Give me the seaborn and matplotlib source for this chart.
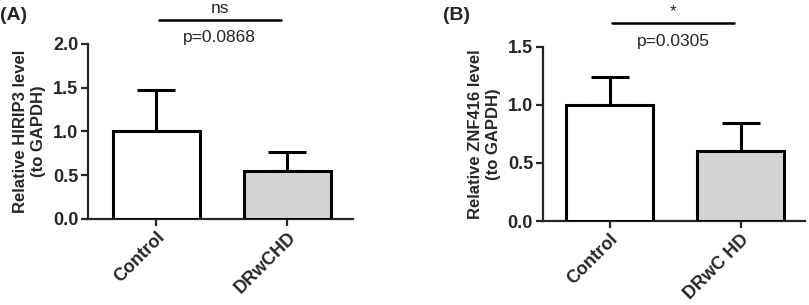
import matplotlib
matplotlib.use("Agg")
import matplotlib.pyplot as plt
import seaborn as sns
import pandas as pd

categories = ["Control", "DRwCHD"]
tick_labels_a = ["Control", "DRwCHD"]
tick_labels_b = ["Control", "DRwC HD"]
means_a = [1.0, 0.55]
errs_a = [0.47, 0.21]
means_b = [1.0, 0.60]
errs_b = [0.24, 0.245]
ylabel_a = "Relative HIRIP3 level\n(to GAPDH)"
ylabel_b = "Relative ZNF416 level\n(to GAPDH)"
sig_a = ("ns", "p=0.0868")
sig_b = ("*", "p=0.0305")
yticks_a = [0.0, 0.5, 1.0, 1.5, 2.0]
yticks_b = [0.0, 0.5, 1.0, 1.5]

sns.set_theme(style="ticks")
plt.rcParams["font.family"] = ["Liberation Sans", "DejaVu Sans"]

fig = plt.figure(figsize=(8.09, 3.05), dpi=100)
ax_a = fig.add_axes([0.1088, 0.282, 0.3275, 0.574])
ax_b = fig.add_axes([0.671, 0.275, 0.324, 0.572])

colors = ["white", "#d4d4d4"]

def draw(ax, means, errs, ylabel, sig, yticks, ymax, labels, letter, letter_x, xl, liney):
    df = pd.DataFrame({"group": categories, "value": means})
    sns.barplot(data=df, x="group", y="value", hue="group", palette=colors,
                edgecolor="black", linewidth=2.2, width=0.66, legend=False, ax=ax, zorder=3)
    ax.errorbar(range(len(means)), means, yerr=[[0] * len(errs), errs], fmt="none",
                ecolor="black", elinewidth=2.2, capsize=13.5, capthick=2.2, zorder=2)
    ax.set_ylim(0, ymax)
    ax.set_xlim(*xl)
    ax.set_yticks(yticks)
    ax.set_yticklabels([f"{t:.1f}" for t in yticks], fontsize=13, fontweight="bold")
    ax.set_xticks(range(len(labels)))
    ax.set_xticklabels(labels, rotation=45, ha="right", rotation_mode="anchor",
                       fontsize=13, fontweight="bold")
    ax.set_xlabel("")
    ax.set_ylabel(ylabel, fontsize=12, fontweight="bold", linespacing=1.25, labelpad=5)
    sns.despine(ax=ax)
    for s in ["left", "bottom"]:
        ax.spines[s].set_linewidth(1.6)
    ax.tick_params(axis="both", width=1.6, length=5, direction="out", pad=2)
    tr = ax.get_xaxis_transform()
    ax.plot([0.02, 0.95], [liney, liney], color="black", lw=1.8, clip_on=False, transform=tr)
    ax.text(0.485, liney + 0.02, sig[0], ha="center", va="bottom", fontsize=12.5, transform=tr)
    ax.text(0.485, liney - 0.06, sig[1], ha="center", va="top", fontsize=12.5, transform=tr)
    fig.text(letter_x, 0.95, letter, ha="left", va="center", fontsize=14, fontweight="bold")

draw(ax_a, means_a, errs_a, ylabel_a, sig_a, yticks_a, 2.0, tick_labels_a, "(A)", 0.0,
     (-0.52, 1.50), 1.137)
draw(ax_b, means_b, errs_b, ylabel_b, sig_b, yticks_b, 1.5, tick_labels_b, "(B)", 0.547,
     (-0.51, 1.49), 1.135)

fig.savefig("out.png", dpi=100)
